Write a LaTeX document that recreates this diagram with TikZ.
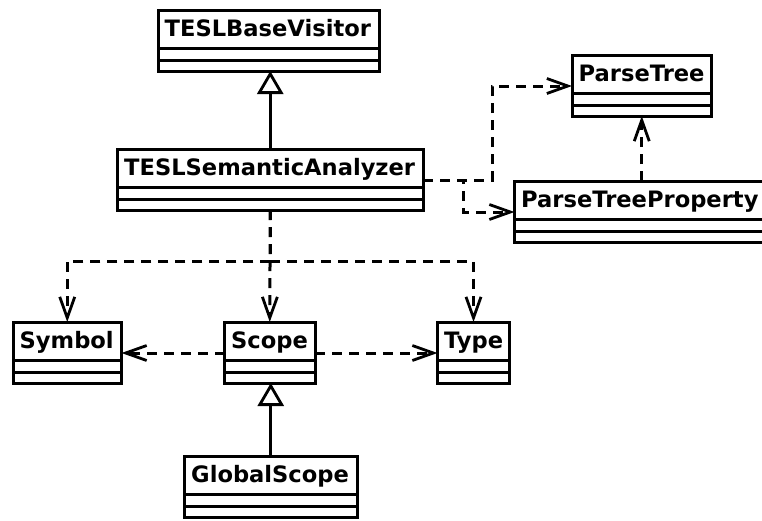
\documentclass[tikz,border=0pt]{standalone}
\usepackage{fontspec}
\setmainfont{DejaVu Sans}
\usetikzlibrary{arrows.meta}

\tikzset{
  umlline/.style={line width=3pt},
  classbox/.style={draw, umlline, anchor=north west, inner sep=0pt, outer sep=0pt},
  classname/.style={font=\bfseries\fontsize{22.6}{25}\selectfont, anchor=base west, inner sep=0pt},
  gen/.style={umlline, -{Triangle[open, length=23pt, width=26pt, line width=2.8pt]}},
  dep/.style={umlline, dash pattern=on 10pt off 7pt,
              -{Straight Barb[length=21pt, width=15pt, line width=2.8pt]}},
}

% UML class box: name, left, top, right, class name
\newcommand\umlclass[5]{%
  \node[classbox, minimum width={#4-#2}, minimum height=61] (#1) at (#2,#3) {};
  \draw[umlline] ([yshift=-38.5pt]#1.north west) -- ([yshift=-38.5pt]#1.north east);
  \draw[umlline] ([yshift=-50pt]#1.north west) -- ([yshift=-50pt]#1.north east);
  \node[classname] at ([xshift=6.5pt,yshift=-26pt]#1.north west) {#5};
}

\begin{document}
\begin{tikzpicture}[x=1pt, y=-1pt]
  \useasboundingbox (0,0) rectangle (762,520);

  % classes
  \umlclass{bv}{158}{10}{379}{TESLBaseVisitor}
  \umlclass{an}{117.5}{149}{423}{TESLSemanticAnalyzer}
  \umlclass{pt}{572}{55}{711.5}{ParseTree}
  \umlclass{ppr}{514.5}{181}{775}{ParseTreeProperty}
  \umlclass{sym}{13}{322}{121.5}{Symbol}
  \umlclass{sc}{224.5}{322}{315}{Scope}
  \umlclass{ty}{437.5}{322}{509.5}{Type}
  \umlclass{gs}{184.5}{456}{357}{GlobalScope}

  % inheritance
  \draw[gen] (an.north) -- (an.north |- bv.south);
  \draw[gen] (gs.north) -- (gs.north |- sc.south);

  % dependencies of the analyzer
  \draw[dep] (an.south) -- (sc.north);
  \draw[dep] (an.south) -- ++(0,51) -| (sym.north);
  \draw[dep] (an.south) -- ++(0,51) -| (ty.north);

  \coordinate (anR) at ([yshift=-31pt]an.north east);
  \coordinate (ptL) at ([yshift=-31pt]pt.north west);
  \coordinate (pprL) at ([yshift=-31pt]ppr.north west);
  \draw[dep] (anR) -- ++(69,0) |- (ptL);
  \draw[dep] (anR) -- ++(40,0) |- (pprL);

  \coordinate (pprT) at ([xshift=-3pt]ppr.north);
  \draw[dep] (pprT) -- (pprT |- pt.south);

  % dependencies of the scope
  \coordinate (scL) at ([yshift=-31pt]sc.north west);
  \coordinate (scR) at ([yshift=-31pt]sc.north east);
  \draw[dep] (scL) -- (scL -| sym.east);
  \draw[dep] (scR) -- (scR -| ty.west);
\end{tikzpicture}
\end{document}
